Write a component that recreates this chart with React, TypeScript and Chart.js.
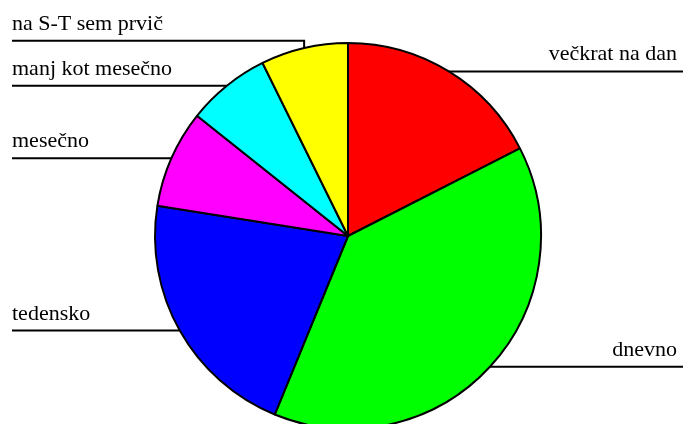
import React, { useEffect, useRef } from "react";
import { Chart, registerables } from "chart.js";

Chart.register(...registerables);

const categories = [
  "večkrat na dan",
  "dnevno",
  "tedensko",
  "mesečno",
  "manj kot mesečno",
  "na S-T sem prvič",
];
const values = [17.5, 38.7, 21.3, 8.2, 7.0, 7.3];
const colors = ["#FF0000", "#00FF00", "#0000FF", "#FF00FF", "#00FFFF", "#FFFF00"];

const W = 683;
const H = 424;

const leaderPlugin = {
  id: "leaderLabels",
  afterDatasetsDraw(chart: any) {
    const ctx = chart.ctx;
    const meta = chart.getDatasetMeta(0);
    const items: any[] = [];
    meta.data.forEach((arc: any, i: number) => {
      const mid = (arc.startAngle + arc.endAngle) / 2;
      const r = arc.outerRadius;
      const ax = arc.x + r * Math.cos(mid);
      const ay = arc.y + r * Math.sin(mid);
      items.push({ label: chart.data.labels[i], ax, ay, y: ay, right: Math.cos(mid) >= 0 });
    });
    const minGap = 45;
    [true, false].forEach((side) => {
      const group = items.filter((it) => it.right === side).sort((a, b) => b.ay - a.ay);
      for (let k = 1; k < group.length; k++) {
        if (group[k - 1].y - group[k].y < minGap) group[k].y = group[k - 1].y - minGap;
      }
    });
    ctx.save();
    ctx.strokeStyle = "#000";
    ctx.lineWidth = 2;
    ctx.fillStyle = "#000";
    ctx.font = "22px 'Liberation Serif', 'Times New Roman', serif";
    ctx.textBaseline = "alphabetic";
    items.forEach((it) => {
      ctx.beginPath();
      if (it.right) {
        ctx.moveTo(it.ax, it.ay);
        if (it.y !== it.ay) ctx.lineTo(it.ax, it.y);
        ctx.lineTo(W, it.y);
      } else {
        ctx.moveTo(it.ax, it.ay);
        if (it.y !== it.ay) ctx.lineTo(it.ax, it.y);
        ctx.lineTo(12, it.y);
      }
      ctx.stroke();
      if (it.right) {
        ctx.textAlign = "right";
        ctx.fillText(it.label, 677, it.y - 11);
      } else {
        ctx.textAlign = "left";
        ctx.fillText(it.label, 12, it.y - 11);
      }
    });
    ctx.restore();
  },
};

export default function App() {
  const ref = useRef<HTMLCanvasElement>(null);
  useEffect(() => {
    document.body.style.margin = "0";
    const chart = new Chart(ref.current as HTMLCanvasElement, {
      type: "pie",
      data: {
        labels: categories,
        datasets: [
          {
            data: values,
            backgroundColor: colors,
            borderColor: "#000",
            borderWidth: 2,
            radius: 193,
            clip: false,
          } as any,
        ],
      },
      options: {
        responsive: false,
        animation: false,
        layout: { padding: { left: 13, right: 0, top: 48, bottom: 0 } },
        plugins: { legend: { display: false }, tooltip: { enabled: false } },
      },
      plugins: [leaderPlugin],
    });
    return () => chart.destroy();
  }, []);
  return (
    <div style={{ width: W, height: H, overflow: "hidden", background: "#fff" }}>
      <canvas ref={ref} width={W} height={H} style={{ display: "block" }} />
    </div>
  );
}
